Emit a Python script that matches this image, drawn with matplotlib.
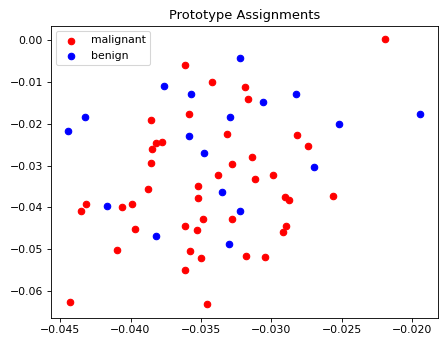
import matplotlib
matplotlib.use("Agg")
import matplotlib.pyplot as plt

# prototype coordinates
malignant_x = [-0.03613, -0.03423, -0.03853, -0.03588, -0.03316, -0.03822, -0.03775, -0.03848,
               -0.03853, -0.03283, -0.03381, -0.02192, -0.03187, -0.03163, -0.02821, -0.02741,
               -0.03138, -0.03115, -0.02992, -0.03520, -0.03520, -0.03874, -0.04315, -0.04355,
               -0.04060, -0.03991, -0.03965, -0.03616, -0.03525, -0.03488, -0.03283, -0.04099,
               -0.03581, -0.03497, -0.03616, -0.04428, -0.03454, -0.02901, -0.02875, -0.02565,
               -0.02899, -0.02915, -0.03180, -0.03048]
malignant_y = [-0.00597, -0.01010, -0.01910, -0.01767, -0.02237, -0.02467, -0.02443, -0.02610,
               -0.02937, -0.02954, -0.03235, 0.00031, -0.01122, -0.01416, -0.02261, -0.02538,
               -0.02787, -0.03319, -0.03219, -0.03486, -0.03773, -0.03558, -0.03909, -0.04076,
               -0.03995, -0.03909, -0.04513, -0.04448, -0.04530, -0.04281, -0.04267, -0.05014,
               -0.05038, -0.05205, -0.05492, -0.06263, -0.06320, -0.03749, -0.03828, -0.03718,
               -0.04448, -0.04585, -0.05150, -0.05189]

benign_x = [-0.03222, -0.03761, -0.03571, -0.04320, -0.04442, -0.03295, -0.03588, -0.03478,
            -0.03058, -0.02825, -0.01942, -0.02521, -0.02699, -0.03349, -0.03226, -0.04165,
            -0.03822, -0.03300]
benign_y = [-0.00423, -0.01106, -0.01289, -0.01839, -0.02180, -0.01839, -0.02292, -0.02705,
            -0.01480, -0.01289, -0.01767, -0.02013, -0.03025, -0.03622, -0.04095, -0.03971,
            -0.04680, -0.04883]

dpi = 78
fig = plt.figure(figsize=(439 / dpi, 342 / dpi), dpi=dpi)
ax = fig.add_subplot(111)
fig.subplots_adjust(left=0.1155, right=0.9977, top=0.9249, bottom=0.0711)

ax.scatter(malignant_x, malignant_y, c='red', label='malignant')
ax.scatter(benign_x, benign_y, c='blue', label='benign')
ax.set_title('Prototype Assignments')
ax.legend(loc='upper left')

fig.savefig('out.png', dpi=dpi)
